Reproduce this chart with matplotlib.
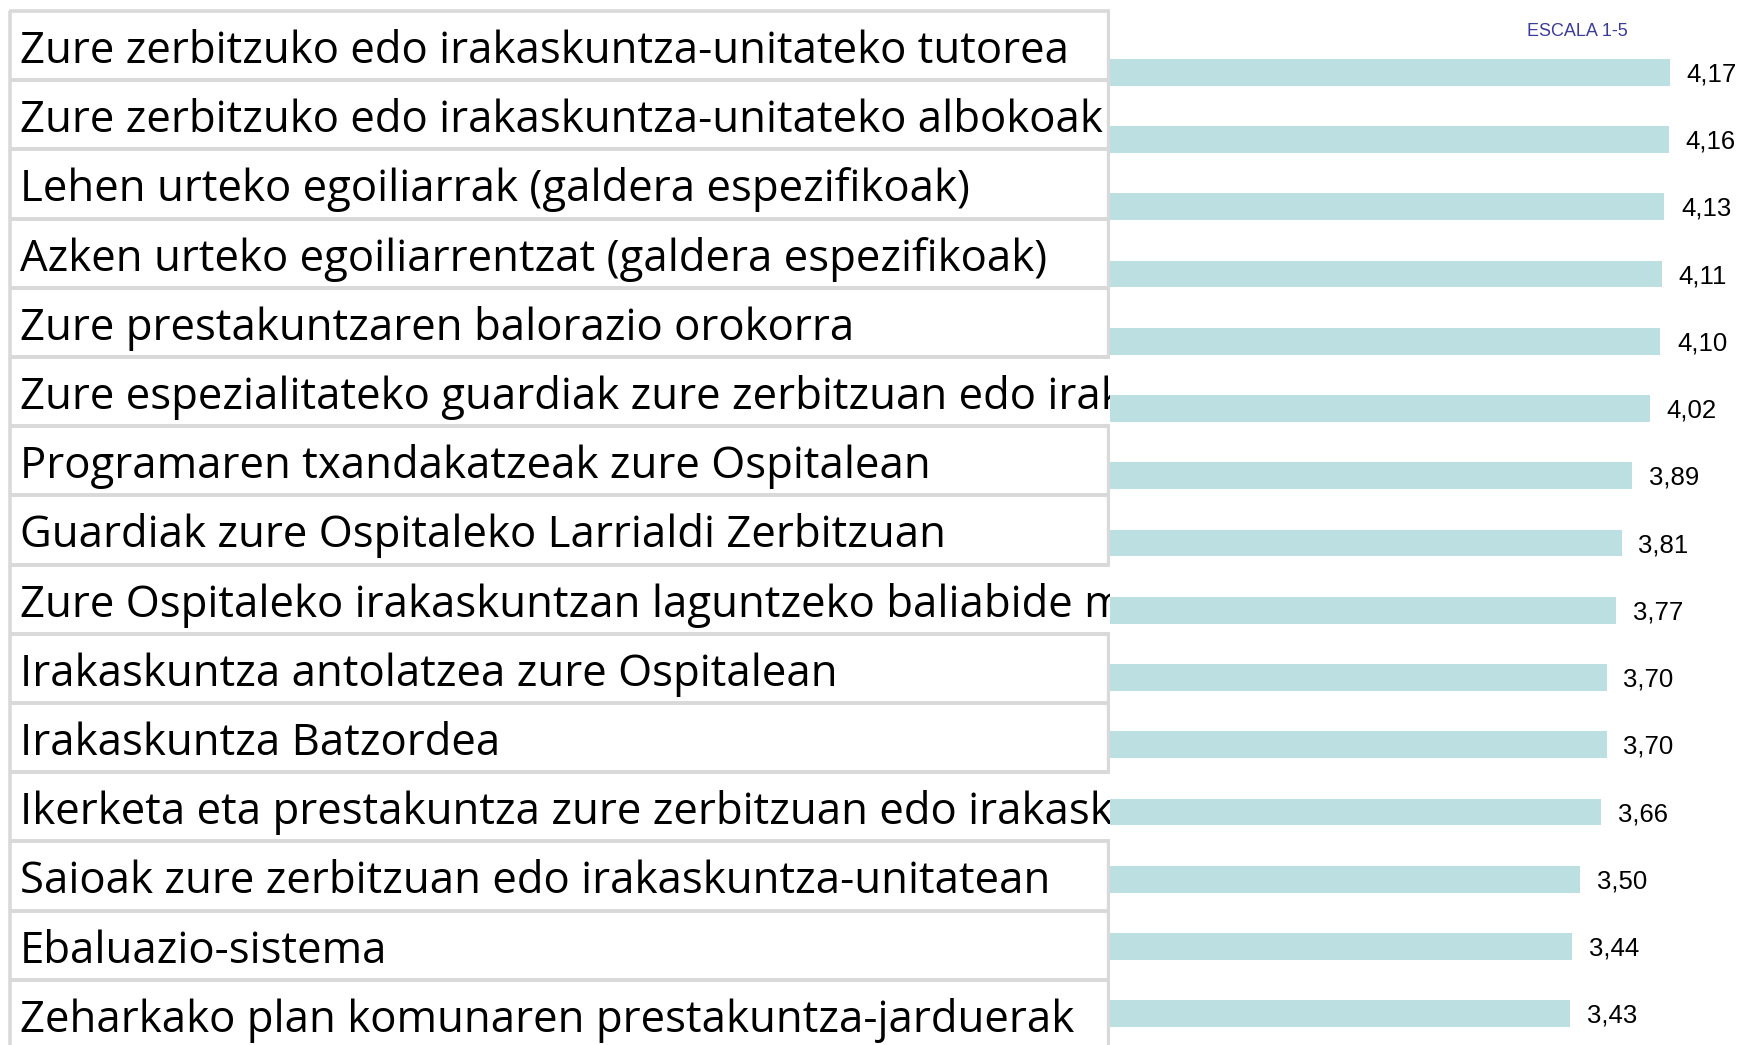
"""Horizontal bar chart of residents' ratings (scale 1-5) with a label table."""

import matplotlib

matplotlib.use("Agg")
import matplotlib.pyplot as plt

LABELS = [
    "Zure zerbitzuko edo irakaskuntza-unitateko tutorea",
    "Zure zerbitzuko edo irakaskuntza-unitateko albokoak",
    "Lehen urteko egoiliarrak (galdera espezifikoak)",
    "Azken urteko egoiliarrentzat (galdera espezifikoak)",
    "Zure prestakuntzaren balorazio orokorra",
    "Zure espezialitateko guardiak zure zerbitzuan edo irakaskuntza-unitatean",
    "Programaren txandakatzeak zure Ospitalean",
    "Guardiak zure Ospitaleko Larrialdi Zerbitzuan",
    "Zure Ospitaleko irakaskuntzan laguntzeko baliabide materialak",
    "Irakaskuntza antolatzea zure Ospitalean",
    "Irakaskuntza Batzordea",
    "Ikerketa eta prestakuntza zure zerbitzuan edo irakaskuntza-unitatean",
    "Saioak zure zerbitzuan edo irakaskuntza-unitatean",
    "Ebaluazio-sistema",
    "Zeharkako plan komunaren prestakuntza-jarduerak",
]
VALUES = [4.17, 4.16, 4.13, 4.11, 4.10, 4.02, 3.89, 3.81, 3.77, 3.70,
          3.70, 3.66, 3.50, 3.44, 3.43]
SCALE_NOTE = "ESCALA 1-5"

W, H = 1741, 1045
BAR_COLOR = "#bcdfe1"
GRID_GRAY = "#d9d9d9"

fig = plt.figure(figsize=(W / 100, H / 100), dpi=100, facecolor="white")

# --- label table (pixel coordinates) ---
tab_left, tab_right = 9, 1110
row_top0, row_h = 11, 69.2
tax = fig.add_axes([0, 0, tab_right / W, 1])
tax.set_xlim(0, tab_right)
tax.set_ylim(H, 0)
tax.axis("off")

renderer = fig.canvas.get_renderer()
for i, label in enumerate(LABELS):
    top = row_top0 + i * row_h
    t = tax.text(20, top + 52, label, fontsize=31.5, family=["Open Sans", "DejaVu Sans"],
                 va="baseline", ha="left", color="black", clip_on=True)
    overflow = t.get_window_extent(renderer).x1 > tab_right - 4
    # horizontal borders and left border
    tax.plot([tab_left, tab_right], [top, top], color=GRID_GRAY, lw=2.6,
             solid_capstyle="butt", zorder=0)
    tax.plot([tab_left, tab_right], [top + row_h, top + row_h], color=GRID_GRAY,
             lw=2.6, solid_capstyle="butt", zorder=0)
    tax.plot([tab_left + 1, tab_left + 1], [top, top + row_h], color=GRID_GRAY,
             lw=2.6, solid_capstyle="butt", zorder=0)
    if not overflow:
        tax.plot([tab_right - 2, tab_right - 2], [top, top + row_h],
                 color=GRID_GRAY, lw=2.4, solid_capstyle="butt", zorder=0)

# --- bars ---
ax = fig.add_axes([tab_right / W, 0, 1 - tab_right / W, 1])
pos = list(range(len(VALUES)))
ax.barh(pos, VALUES, height=0.4, color=BAR_COLOR, edgecolor="none")
step = 67.25
ax.set_ylim((H - 72.2) / step, -72.2 / step)
ax.set_xlim(0, 4.70)
ax.axis("off")
for p, v in zip(pos, VALUES):
    ax.annotate(f"{v:.2f}".replace(".", ","), (v, p), xytext=(12, -1.6),
                textcoords="offset points", va="center", ha="left",
                fontsize=18.5, family="Liberation Sans", color="black")

fig.text(1527 / W, 1 - 31 / H, SCALE_NOTE, fontsize=13,
         family="Liberation Sans", color="#3c3c9a", ha="left", va="center")

fig.savefig("out.png", dpi=100, facecolor="white")
